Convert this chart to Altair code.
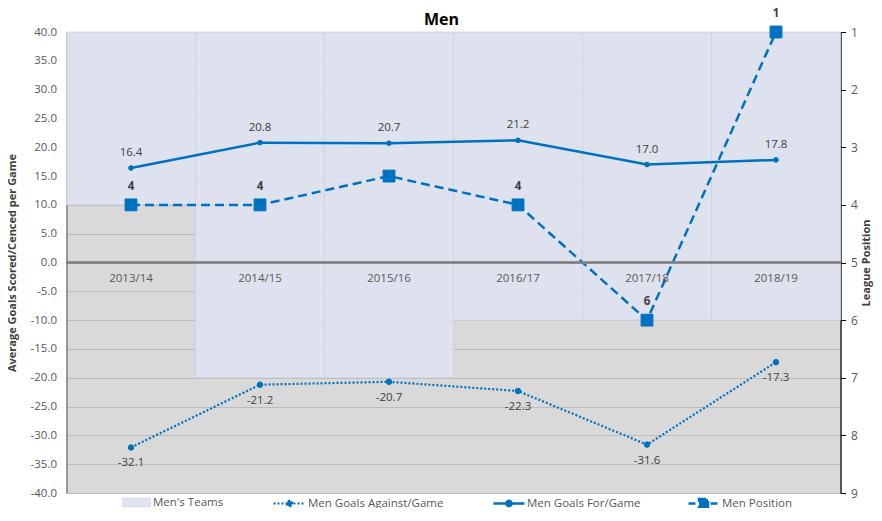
import altair as alt
import pandas as pd

seasons = ["2013/14", "2014/15", "2015/16", "2016/17", "2017/18", "2018/19"]
goals_for = [16.4, 20.8, 20.7, 21.2, 17.0, 17.8]
goals_against = [-32.1, -21.2, -20.7, -22.3, -31.6, -17.3]
position = [4, 4, 3.5, 4, 6, 1]
position_labels = ["4", "4", "", "4", "6", "1"]
teams = [4, 7, 7, 6, 6, 6]
left_ticks = [-40, -35, -30, -25, -20, -15, -10, -5, 0, 5, 10, 15, 20, 25, 30, 35, 40]
right_ticks = [1, 2, 3, 4, 5, 6, 7, 8, 9]
series_names = ["Men's Teams", "Men Goals Against/Game", "Men Goals For/Game", "Men Position"]

FONT = "Open Sans"
BLUE = "#0070C0"
LAV = "#dde3f0"
TXT = "#404040"
AX = "#595959"
PLOT_H = 461
LEG_CENTER = 470  # legend row centre, relative to the plot top

df = pd.DataFrame({
    "season": seasons,
    "gf": goals_for,
    "ga": goals_against,
    "pos": position,
    "pos_label": position_labels,
    "teams": teams,
    "s_teams": [series_names[0]] * len(seasons),
    "s_ga": [series_names[1]] * len(seasons),
    "s_gf": [series_names[2]] * len(seasons),
    "s_pos": [series_names[3]] * len(seasons),
})

xenc = alt.X("season:N", sort=seasons,
             scale=alt.Scale(type="band", paddingInner=0, paddingOuter=0),
             axis=None)

yl_scale = alt.Scale(domain=[-40, 40], nice=False, zero=False)
left_axis = alt.Axis(
    orient="left", values=left_ticks, format=".1f", grid=True, gridColor="#bcbcbc",
    gridWidth=1, ticks=False, labelPadding=10, labelColor=AX, labelFontSize=11.5,
    labelFont=FONT, domainColor="#7f7f7f", domainWidth=1.5,
    title="Average Goals Scored/Cenced per Game", titleFont=FONT, titleFontSize=11,
    titleFontWeight="bold", titleColor=TXT, titleX=-54, titleY=PLOT_H / 2,
    titleAngle=270, titleAlign="center", titleBaseline="middle")

yr_scale = alt.Scale(domain=[1, 9], reverse=True, nice=False, zero=False)
right_axis = alt.Axis(
    orient="right", values=right_ticks, format="d", grid=False, tickSize=5,
    tickColor="#000000", domainColor="#000000", domainWidth=1.2, labelPadding=5,
    labelColor=AX, labelFontSize=12, labelFont=FONT,
    title="League Position", titleFont=FONT, titleFontSize=11, titleFontWeight="bold",
    titleColor=TXT, titleX=26, titleY=PLOT_H / 2, titleAngle=270, titleAlign="center",
    titleBaseline="middle")


def leg(x, width, shape, offset, **kw):
    return alt.Legend(title=None, orient="none", legendX=x,
                      legendY=LEG_CENTER - width / 2,
                      symbolType=shape, symbolSize=width * width, labelOffset=offset,
                      labelFont=FONT, labelFontSize=11.5, labelColor=AX,
                      symbolOpacity=1, **kw)


circle_path_gf = "M-1,0H1M-0.17,0A0.17,0.17 0 1,0 0.17,0A0.17,0.17 0 1,0 -0.17,0Z"
circle_path_ga = "M-1,0H1M-0.17,0A0.17,0.17 0 1,0 0.17,0A0.17,0.17 0 1,0 -0.17,0Z"
square_path = "M-1,0H1M-0.3,-0.3H0.3V0.3H-0.3Z"
rect_path = "M-1,-0.32H1V0.32H-1Z"


def series_stroke(field, name, legend):
    return alt.Stroke(field, scale=alt.Scale(domain=[name], range=[BLUE]), legend=legend)


base = alt.Chart(df)

# right-scale group: team bars and league position
bars = base.mark_bar(stroke="#cbd1de", strokeWidth=0.8, fillOpacity=0.88).encode(
    x=xenc,
    y=alt.Y("teams:Q", scale=yr_scale, axis=right_axis),
    y2=alt.datum(1),
    color=alt.Color("s_teams:N", scale=alt.Scale(domain=[series_names[0]], range=[LAV]),
                    legend=leg(55.5, 28, rect_path, 2, symbolStrokeColor="#cfd5e2",
                               symbolStrokeWidth=0.5)),
)
pos_line = base.mark_line(color=BLUE, strokeWidth=2.5, strokeDash=[9, 5]).encode(
    x=xenc, y=alt.Y("pos:Q", scale=yr_scale, axis=right_axis))
pos_pts = base.mark_point(filled=True, shape="square", size=140, color=BLUE,
                          opacity=1, strokeWidth=1).encode(
    x=xenc, y=alt.Y("pos:Q", scale=yr_scale, axis=right_axis),
    stroke=series_stroke("s_pos:N", series_names[3],
                         leg(620.5, 30, square_path, 2, symbolStrokeWidth=2.5,
                             symbolDash=[7, 4])))
pos_text = base.mark_text(dy=-18, fontWeight="bold", fontSize=11.5, font=FONT,
                          color=TXT).encode(
    x=xenc, y=alt.Y("pos:Q", scale=yr_scale, axis=right_axis), text="pos_label:N")
right_group = alt.layer(bars, pos_line, pos_pts, pos_text)

# left-scale group: goals
zero_rule = base.mark_rule(color="#7f7f7f", strokeWidth=1.5).encode(
    y=alt.Y(datum=0, scale=yl_scale, axis=left_axis))
cat_text = base.mark_text(dy=16, fontSize=11.5, font=FONT, color=AX).encode(
    x=xenc, y=alt.Y(datum=0, scale=yl_scale, axis=left_axis), text="season:N")
gf_line = base.mark_line(color=BLUE, strokeWidth=2.5).encode(
    x=xenc, y=alt.Y("gf:Q", scale=yl_scale, axis=left_axis))
gf_pts = base.mark_point(filled=True, shape="circle", size=22, color=BLUE,
                         opacity=1, strokeWidth=1).encode(
    x=xenc, y=alt.Y("gf:Q", scale=yl_scale, axis=left_axis),
    stroke=series_stroke("s_gf:N", series_names[2],
                         leg(425.5, 31, circle_path_gf, 1, symbolStrokeWidth=2.5)))
gf_text = base.mark_text(dy=-15, fontSize=11.5, font=FONT, color=TXT).encode(
    x=xenc, y=alt.Y("gf:Q", scale=yl_scale, axis=left_axis),
    text=alt.Text("gf:Q", format=".1f"))
ga_line = base.mark_line(color=BLUE, strokeWidth=2.2, strokeDash=[2, 2]).encode(
    x=xenc, y=alt.Y("ga:Q", scale=yl_scale, axis=left_axis))
ga_pts = base.mark_point(filled=True, shape="circle", size=30, color=BLUE,
                         opacity=1, strokeWidth=1).encode(
    x=xenc, y=alt.Y("ga:Q", scale=yl_scale, axis=left_axis),
    stroke=series_stroke("s_ga:N", series_names[1],
                         leg(205.5, 32, circle_path_ga, 1, symbolStrokeWidth=2.2,
                             symbolDash=[2, 2])))
ga_text = base.mark_text(dy=16, fontSize=11.5, font=FONT, color=TXT).encode(
    x=xenc, y=alt.Y("ga:Q", scale=yl_scale, axis=left_axis),
    text=alt.Text("ga:Q", format=".1f"))
left_group = alt.layer(zero_rule, cat_text, gf_line, gf_pts, gf_text,
                       ga_line, ga_pts, ga_text).resolve_scale(stroke="independent")

chart = alt.layer(right_group, left_group).resolve_scale(
    y="independent", stroke="independent").properties(
    width=774, height=PLOT_H,
    autosize=alt.AutoSizeParams(type="none"),
    padding={"left": 58.5, "top": 24, "right": 33.5, "bottom": 15},
    title=alt.Title("Men", font=FONT, fontSize=16, fontWeight="bold", color="#000000",
                    anchor="middle", dx=-12, offset=6, dy=26),
).configure(
    locale={"number": {"decimal": ".", "thousands": ",", "grouping": [3],
                       "currency": ["$", ""], "minus": "-"}}
).configure_view(fill="#d9d9d9", stroke="#c8c8c8", strokeWidth=1)

chart.save("out.html", embed_options={"renderer": "svg", "actions": False})
